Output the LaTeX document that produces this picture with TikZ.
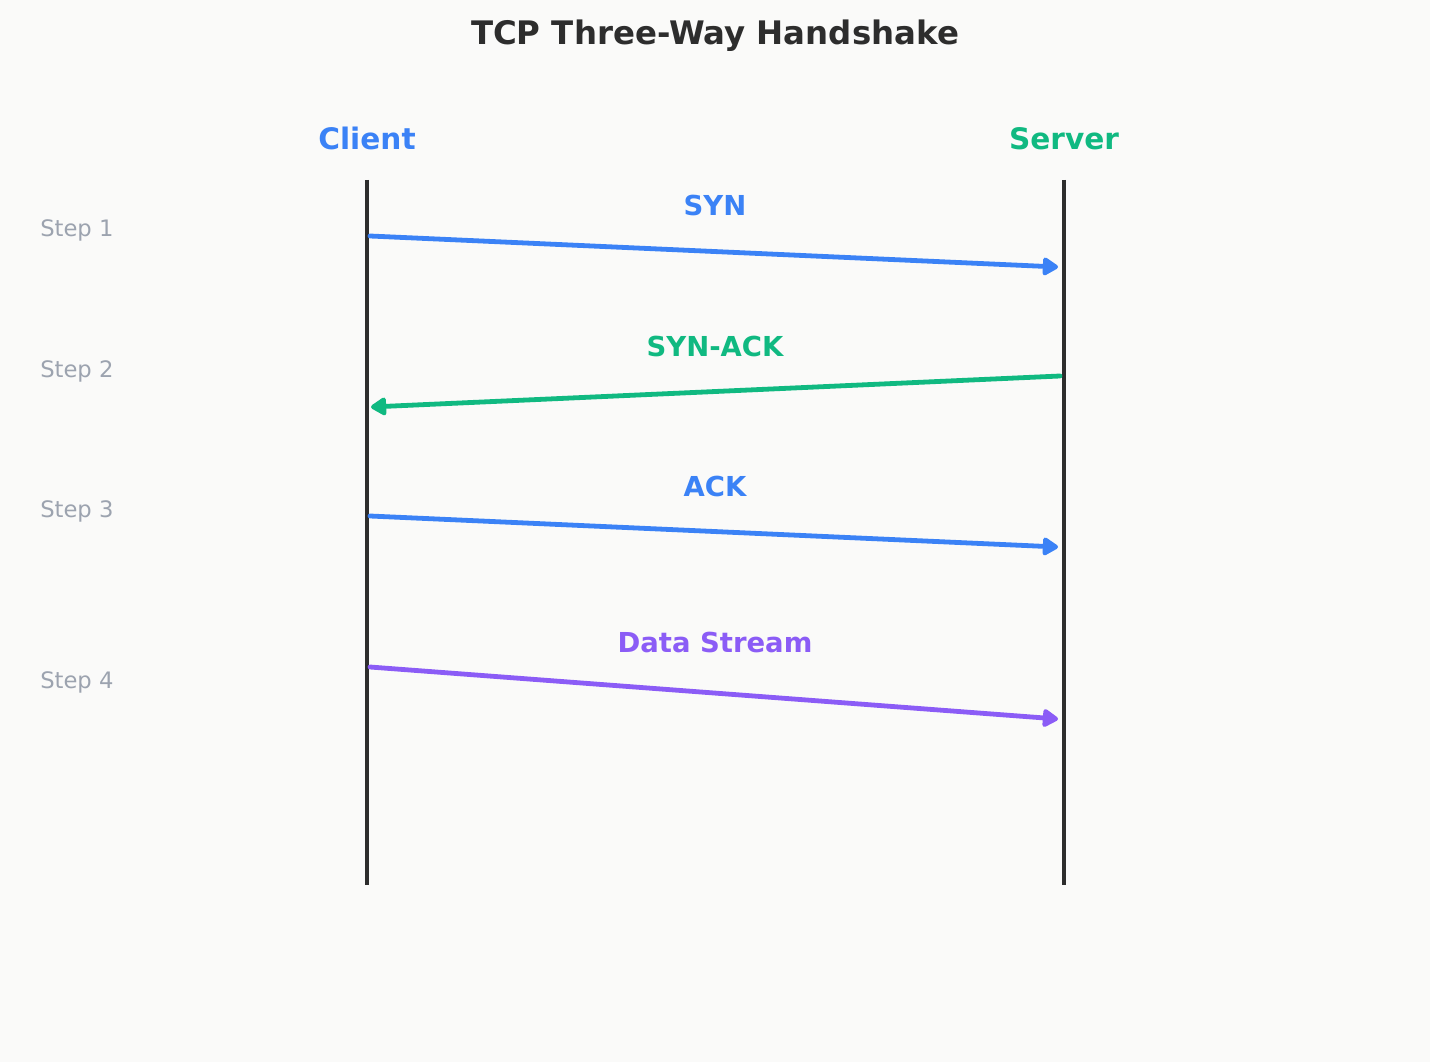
\documentclass[tikz,border=0pt]{standalone}
\usepackage{fontspec}
\setmainfont{DejaVu Sans}
\usetikzlibrary{positioning,arrows.meta,calc}

\definecolor{bgpaper}{HTML}{FAFAF9}
\definecolor{inkdark}{HTML}{2D2D2D}
\definecolor{cblue}{HTML}{3B82F6}
\definecolor{sgreen}{HTML}{10B981}
\definecolor{dpurple}{HTML}{8B5CF6}
\definecolor{stepgray}{HTML}{9CA3AF}

\begin{document}
\begin{tikzpicture}[
  x=0.75pt, y=-0.75pt,
  title/.style={font=\bfseries\fontsize{24.3}{28}\selectfont, text=inkdark, anchor=base, inner sep=0pt},
  party/.style={font=\bfseries\fontsize{22.2}{26}\selectfont, anchor=base, inner sep=0pt},
  msg/.style={font=\bfseries\fontsize{20.6}{24}\selectfont, anchor=base, inner sep=0pt},
  steplbl/.style={font=\fontsize{17}{20}\selectfont, text=stepgray, anchor=base west, inner sep=0pt},
  lifeline/.style={draw=inkdark, line width=3.3pt},
  arr/.style={-{Triangle[round, length=13pt, width=15pt]}, line width=3.6pt, line cap=round}
]

\path[fill=bgpaper] (0,0) rectangle (1430,1062);

% nodes
\node[title] (title) at (715,45) {TCP Three-Way Handshake};
\node[party, text=cblue] (client) at (367,150) {Client};
\node[party, text=sgreen] (server) at (1064,150) {Server};

\node[steplbl] (step1) at (40,237) {Step 1};
\node[steplbl] (step2) at (40,377) {Step 2};
\node[steplbl] (step3) at (40,517) {Step 3};
\node[steplbl] (step4) at (40,688) {Step 4};

\node[msg, text=cblue] (syn) at (715,216) {SYN};
\node[msg, text=sgreen] (synack) at (715,356) {SYN-ACK};
\node[msg, text=cblue] (ack) at (715,496) {ACK};
\node[msg, text=dpurple] (data) at (715,652) {Data Stream};

% lifelines
\coordinate (ctop) at (367,180);
\coordinate (cbot) at (367,885);
\coordinate (stop) at (1064,180);
\coordinate (sbot) at (1064,885);
\draw[lifeline] (ctop) -- (cbot);
\draw[lifeline] (stop) -- (sbot);

% message ends
\coordinate (syn a) at (370,236);
\coordinate (syn b) at (1058,267);
\coordinate (synack a) at (1060,376);
\coordinate (synack b) at (371,407);
\coordinate (ack a) at (370,516);
\coordinate (ack b) at (1058,547);
\coordinate (data a) at (370,667);
\coordinate (data b) at (1058,719);

% arrows
\draw[arr, cblue] (syn a) -- (syn b);
\draw[arr, sgreen] (synack a) -- (synack b);
\draw[arr, cblue] (ack a) -- (ack b);
\draw[arr, dpurple] (data a) -- (data b);

\end{tikzpicture}
\end{document}
